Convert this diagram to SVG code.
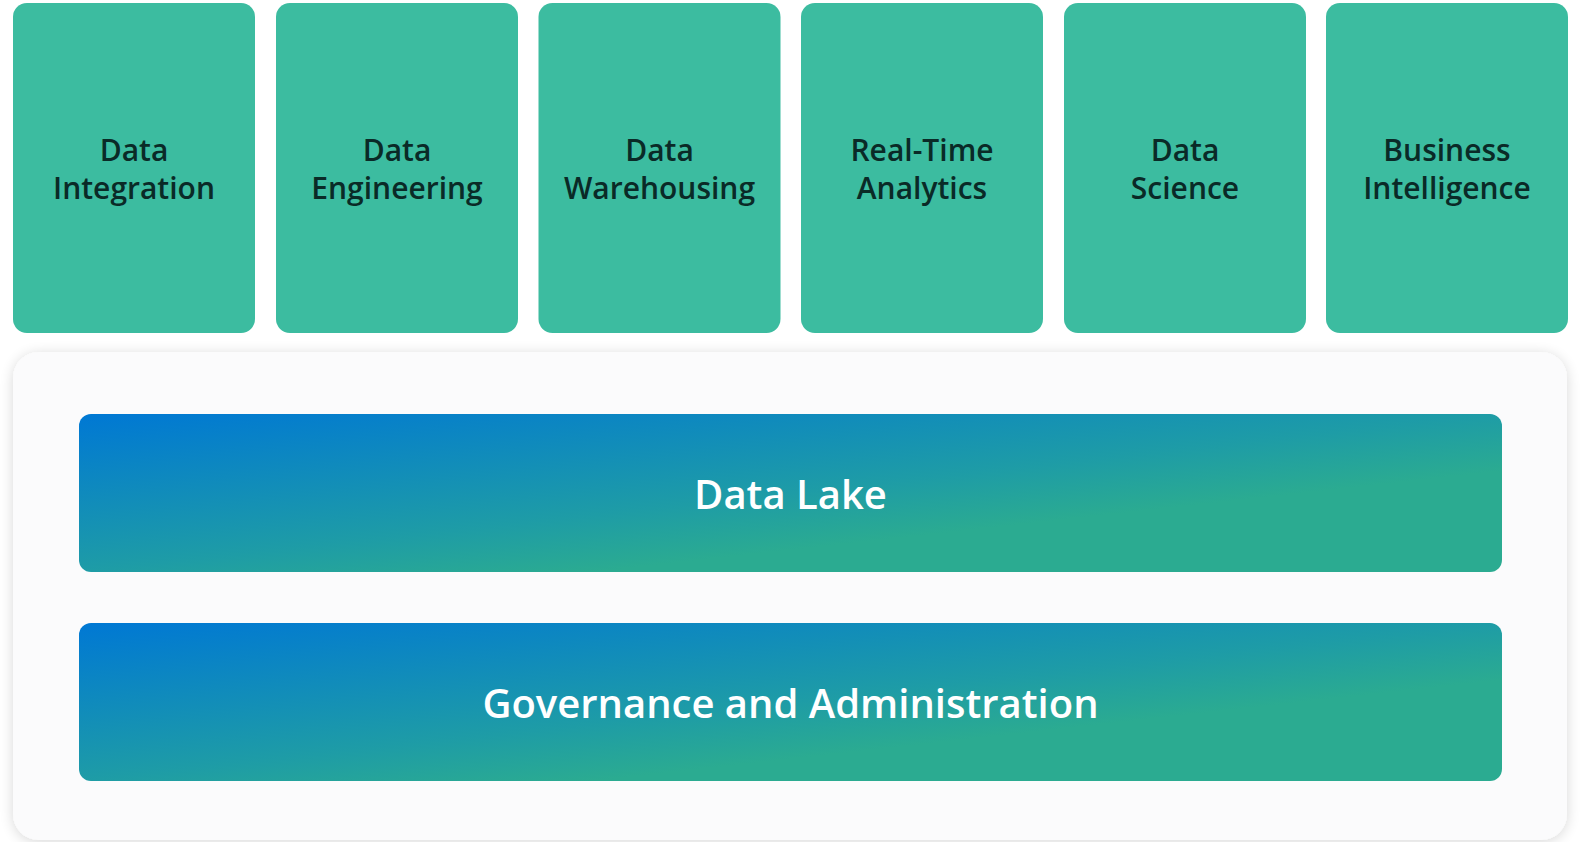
<svg xmlns="http://www.w3.org/2000/svg" width="1585" height="842" viewBox="0 0 1585 842">
<defs>
<linearGradient id="band" x1="0" y1="0" x2="1" y2="1">
<stop offset="0" stop-color="#0078D4"/>
<stop offset="0.5" stop-color="#1E9CA6"/>
<stop offset="0.68" stop-color="#2BAB91"/>
<stop offset="1" stop-color="#2BAB91"/>
</linearGradient>
<filter id="shadow" x="-5%" y="-10%" width="110%" height="120%">
<feGaussianBlur in="SourceAlpha" stdDeviation="7"/>
<feOffset dy="2"/>
<feComponentTransfer><feFuncA type="linear" slope="0.16"/></feComponentTransfer>
<feMerge><feMergeNode/><feMergeNode in="SourceGraphic"/></feMerge>
</filter>
<style>
.tile{fill:#3CBCA0;}
.tt{font-family:"Open Sans","Noto Sans",sans-serif;font-weight:600;font-size:30px;fill:#0A2A27;text-anchor:middle;}
.band{fill:url(#band);}
.bt{font-family:"Open Sans","Noto Sans",sans-serif;font-weight:600;font-size:40px;fill:#FFFFFF;text-anchor:middle;}
</style>
</defs>
<rect width="1585" height="842" fill="#FFFFFF"/>
<g id="platform">
<rect x="13" y="352" width="1554" height="488" rx="26" fill="#FBFBFC" filter="url(#shadow)"/>
</g>
<g id="data-integration">
<rect class="tile" x="13" y="3" width="242" height="330" rx="14"/>
<text class="tt" x="134" y="161">Data</text>
<text class="tt" x="134" y="199">Integration</text>
</g>
<g id="data-engineering">
<rect class="tile" x="276" y="3" width="242" height="330" rx="14"/>
<text class="tt" x="397" y="161">Data</text>
<text class="tt" x="397" y="199">Engineering</text>
</g>
<g id="data-warehousing">
<rect class="tile" x="538.5" y="3" width="242" height="330" rx="14"/>
<text class="tt" x="659.5" y="161">Data</text>
<text class="tt" x="659.5" y="199">Warehousing</text>
</g>
<g id="real-time-analytics">
<rect class="tile" x="801" y="3" width="242" height="330" rx="14"/>
<text class="tt" x="922" y="161">Real-Time</text>
<text class="tt" x="922" y="199">Analytics</text>
</g>
<g id="data-science">
<rect class="tile" x="1064" y="3" width="242" height="330" rx="14"/>
<text class="tt" x="1185" y="161">Data</text>
<text class="tt" x="1185" y="199">Science</text>
</g>
<g id="business-intelligence">
<rect class="tile" x="1326" y="3" width="242" height="330" rx="14"/>
<text class="tt" x="1447" y="161">Business</text>
<text class="tt" x="1447" y="199">Intelligence</text>
</g>
<g id="data-lake">
<rect class="band" x="79" y="414" width="1423" height="158" rx="12"/>
<text class="bt" x="790.5" y="509">Data Lake</text>
</g>
<g id="governance">
<rect class="band" x="79" y="623" width="1423" height="158" rx="12"/>
<text class="bt" x="790.5" y="718">Governance and Administration</text>
</g>
<g id="connectors"/>
</svg>
